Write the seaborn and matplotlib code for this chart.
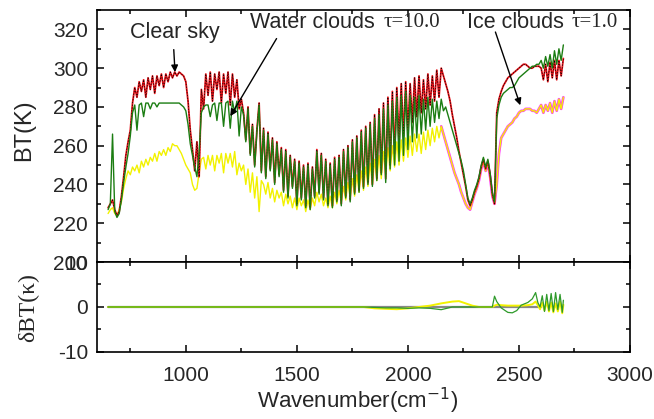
import numpy as np
import matplotlib
matplotlib.use('Agg')
import matplotlib.pyplot as plt
from matplotlib.ticker import MultipleLocator
import seaborn as sns

# spectral grid (cm-1)
wn = np.arange(650, 2710, 10)

# brightness temperatures (K)
bt_clear = [
    228, 230, 232, 227, 224, 226, 234, 244, 255, 262,
    268, 282, 290, 285, 293, 288, 294, 285, 295, 289,
    296, 287, 296, 291, 297, 290, 297, 293, 298, 295,
    298, 296, 298, 297, 296, 293, 283, 268, 258, 247,
    262, 244, 289, 279, 297, 286, 298, 283, 297, 289,
    298, 282, 297, 287, 298, 281, 297, 285, 294, 279,
    284, 277, 263, 280, 256, 271, 250, 268, 282, 247,
    269, 244, 267, 248, 264, 241, 262, 245, 259, 237,
    258, 234, 255, 239, 253, 230, 252, 233, 250, 229,
    251, 228, 249, 234, 258, 236, 256, 233, 253, 230,
    251, 229, 254, 232, 255, 230, 258, 234, 260, 232,
    263, 236, 265, 237, 268, 239, 270, 241, 272, 240,
    276, 243, 279, 246, 282, 243, 285, 250, 288, 256,
    290, 262, 292, 265, 293, 268, 292, 272, 295, 275,
    296, 277, 294, 279, 297, 281, 296, 283, 299, 285,
    300, 296, 292, 288, 283, 276, 270, 264, 257, 251,
    245, 239, 232, 229, 232, 236, 239, 243, 249, 253,
    248, 252, 245, 235, 230, 277, 284, 288, 291, 293,
    295, 296, 297, 298, 299, 300, 301, 302, 302, 301,
    300, 300, 301, 301, 301, 300, 294, 302, 293, 303,
    295, 304, 294, 304, 296, 305]

bt_water = [
    227, 230, 266, 226, 223, 225, 232, 241, 249, 256,
    265, 277, 281, 268, 281, 282, 275, 282, 282, 279,
    282, 282, 280, 282, 282, 282, 282, 282, 282, 282,
    282, 282, 282, 281, 280, 278, 271, 261, 255, 249,
    244, 257, 277, 280, 281, 281, 275, 281, 282, 273,
    282, 282, 270, 282, 283, 269, 283, 277, 283, 265,
    280, 276, 262, 279, 255, 270, 249, 267, 281, 246,
    268, 243, 266, 247, 263, 240, 261, 244, 258, 236,
    257, 233, 254, 238, 252, 229, 251, 232, 249, 228,
    250, 227, 248, 233, 257, 235, 255, 232, 252, 229,
    250, 228, 253, 231, 254, 229, 257, 233, 259, 231,
    262, 235, 264, 236, 267, 238, 269, 240, 271, 239,
    274, 242, 276, 245, 279, 241, 281, 248, 283, 250,
    285, 252, 286, 255, 288, 258, 286, 262, 285, 264,
    286, 266, 284, 268, 285, 270, 284, 272, 283, 274,
    284, 278, 280, 276, 272, 268, 264, 260, 256, 252,
    247, 240, 233, 230, 233, 237, 240, 244, 250, 254,
    249, 253, 246, 236, 231, 274, 281, 285, 287, 288,
    289, 290, 290, 291, 293, 295, 296, 297, 298, 299,
    300, 301, 301, 302, 302, 304, 300, 306, 301, 307,
    300, 309, 302, 310, 304, 312]

bt_ice = [
    225, 227, 228, 225, 224, 227, 231, 238, 243, 247,
    245, 249, 247, 250, 246, 252, 249, 253, 250, 254,
    252, 256, 252, 257, 255, 258, 255, 259, 257, 261,
    260, 260, 258, 256, 253, 250, 248, 246, 240, 237,
    238, 246, 253, 254, 248, 255, 250, 255, 247, 255,
    251, 256, 246, 256, 251, 256, 249, 257, 245, 251,
    247, 250, 240, 248, 236, 246, 233, 244, 226, 242,
    240, 235, 241, 233, 238, 231, 237, 233, 236, 229,
    235, 230, 234, 228, 233, 227, 233, 229, 232, 226,
    232, 227, 233, 229, 236, 231, 235, 229, 233, 228,
    234, 228, 236, 230, 237, 231, 239, 232, 241, 233,
    243, 234, 245, 236, 247, 237, 249, 239, 251, 240,
    253, 242, 255, 243, 257, 245, 259, 247, 260, 249,
    262, 250, 263, 252, 264, 254, 265, 255, 266, 257,
    266, 256, 267, 258, 268, 260, 269, 262, 270, 264,
    270, 266, 262, 258, 254, 250, 246, 243, 240, 236,
    233, 230, 228, 227, 231, 235, 238, 242, 248, 252,
    247, 251, 244, 234, 230, 240, 256, 264, 266, 268,
    270, 271, 272, 274, 275, 277, 278, 278, 279, 279,
    279, 278, 278, 277, 279, 281, 277, 281, 278, 282,
    277, 283, 278, 284, 279, 285]

# differences for the lower panel (K)
wn_d = [650, 1800, 1850, 1900, 1950, 2000, 2050, 2100, 2150, 2200,
        2230, 2260, 2290, 2320, 2380, 2390, 2400, 2420, 2450, 2470,
        2490, 2510, 2540, 2560, 2575, 2585, 2595, 2605, 2615, 2625,
        2635, 2645, 2655, 2665, 2675, 2685, 2695, 2700]
d_water = [0, 0, -0.1, -0.2, -0.2, -0.3, -0.2, -0.3, -0.6, 0,
           0, 0, 0, 0, 0, 2.4, 1.2, -0.2, -1.2, -1.3,
           -0.8, 0.4, 1.0, 1.8, 3.2, 1.0, 0.0, 2.5, -1.0, 2.8,
           -0.8, 3.0, -1.0, 3.2, -0.6, 2.8, -1.2, 1.5]
d_ice = [0, 0, -0.3, -0.4, -0.5, -0.3, 0.0, 0.3, 0.8, 1.2,
         1.3, 0.8, 0.3, 0.0, 0.0, 0.3, 0.5, 0.4, 0.3, 0.3,
         0.3, 0.3, 0.4, 0.6, 1.2, 0.4, -0.5, 1.0, -0.8, 1.2,
         -1.0, 1.0, -1.2, 0.8, -1.0, 1.2, -1.4, 0.5]
wn_zero = [650, 2600]
d_zero = [0, 0]

sns.set_style('ticks')
plt.rcParams['font.family'] = ['Liberation Sans', 'DejaVu Sans']
plt.rcParams['axes.linewidth'] = 1.2
plt.rcParams['axes.unicode_minus'] = False
serif = ['Liberation Serif', 'DejaVu Serif']

fig = plt.figure(figsize=(6.54, 4.19), dpi=100)
ax1 = fig.add_axes([0.1483, 0.3747, 0.815, 0.6014])
ax2 = fig.add_axes([0.1483, 0.1600, 0.815, 0.2147])

yellow = '#f2f200'
green = '#1b7d12'
red = '#e8141a'

# top panel
mag = wn >= 2150
sns.lineplot(x=wn[mag], y=np.array(bt_ice)[mag], ax=ax1, color='#ff30ff', lw=1.9,
             estimator=None, sort=False, legend=False)
sns.lineplot(x=wn, y=bt_ice, ax=ax1, color=yellow, lw=1.0,
             estimator=None, sort=False, legend=False)
sns.lineplot(x=wn, y=bt_clear, ax=ax1, color=red, lw=1.3,
             estimator=None, sort=False, legend=False)
ax1.plot(wn, bt_clear, color='black', lw=0.5, ls=(0, (2, 2)))
sns.lineplot(x=wn, y=bt_water, ax=ax1, color=green, lw=1.0,
             estimator=None, sort=False, legend=False)

ax1.set_xlim(600, 3000)
ax1.set_ylim(200, 330)
ax1.yaxis.set_major_locator(MultipleLocator(20))
ax1.yaxis.set_minor_locator(MultipleLocator(10))
ax1.xaxis.set_major_locator(MultipleLocator(500))
ax1.xaxis.set_minor_locator(MultipleLocator(250))
ax1.tick_params(labelbottom=False)
ax1.set_xlabel('')
ax1.set_ylabel('')

# annotations
arw = dict(arrowstyle='-|>', color='black', lw=1.0, mutation_scale=10)
ax1.annotate('', xy=(952, 296.5), xytext=(945, 311), arrowprops=arw)
ax1.annotate('', xy=(1194, 274), xytext=(1415, 316.5), arrowprops=arw)
ax1.annotate('', xy=(2510, 279.5), xytext=(2390, 320), arrowprops=arw)
ax1.text(951, 318.5, 'Clear sky', ha='center', va='center', fontsize=15.5)
ax1.text(1568, 323.5, 'Water clouds', ha='center', va='center', fontsize=15.5)
ax1.text(2018, 323.5, 'τ=10.0', ha='center', va='center', fontsize=15, family=serif)
ax1.text(2482, 323.5, 'Ice clouds', ha='center', va='center', fontsize=15.5)
ax1.text(2842, 323.5, 'τ=1.0', ha='center', va='center', fontsize=15, family=serif)

# lower panel
sns.lineplot(x=wn_zero, y=d_zero, ax=ax2, color='#888888', lw=1.6,
             estimator=None, sort=False, legend=False)
sns.lineplot(x=wn_d, y=d_ice, ax=ax2, color=yellow, lw=1.4,
             estimator=None, sort=False, legend=False)
sns.lineplot(x=wn_d, y=d_water, ax=ax2, color='#2e9a2a', lw=0.9,
             estimator=None, sort=False, legend=False)
ax2.set_xlim(600, 3000)
ax2.set_ylim(-10, 10)
ax2.yaxis.set_major_locator(MultipleLocator(10))
ax2.yaxis.set_minor_locator(MultipleLocator(5))
ax2.xaxis.set_major_locator(MultipleLocator(500))
ax2.xaxis.set_minor_locator(MultipleLocator(250))
ax2.set_xticks([1000, 1500, 2000, 2500, 3000])
ax2.set_xlabel('')
ax2.set_ylabel('')

for ax in (ax1, ax2):
    ax.tick_params(which='both', direction='in', top=True, right=True,
                   labelsize=15, width=1.1, color='black', pad=6.5)
    ax.tick_params(which='major', length=5)
    ax.tick_params(which='minor', length=3)
    for s in ax.spines.values():
        s.set_color('black')
ax2.tick_params(axis='x', pad=10)

fig.text(0.037, 0.69, 'BT(K)', rotation=90, ha='center', va='center', fontsize=17)
fig.text(0.043, 0.265, 'δBT(κ)', rotation=90, ha='center', va='center', fontsize=17,
         family=serif)
fig.text(0.546, 0.008, 'Wavenumber(cm$^{-1}$)', ha='center', va='bottom', fontsize=16)

fig.savefig('out.png', dpi=100)
